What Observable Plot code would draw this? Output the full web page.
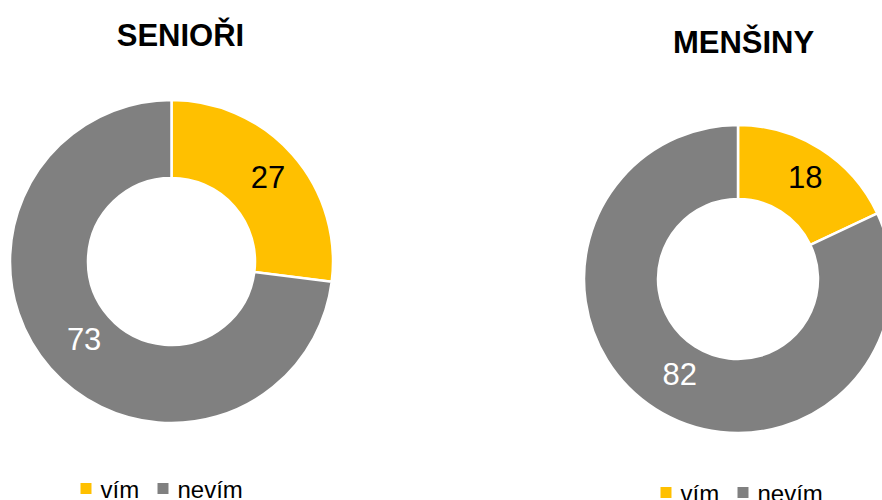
<!DOCTYPE html>
<html><head><meta charset="utf-8">
<script src="https://cdn.jsdelivr.net/npm/d3@7"></script>
<script src="https://cdn.jsdelivr.net/npm/@observablehq/plot@0.6"></script>
<style>body{margin:0;background:#fff;font-family:"Liberation Sans",Arial,sans-serif}</style>
</head><body><div id="chart"></div>
<script>
// ---- data ----
const groups = ["SENIOŘI", "MENŠINY"];
const answers = ["vím", "nevím"];
const seniori = [27, 73];
const mensiny = [18, 82];
const colors = ["#FFC000", "#808080"];
const labelColors = ["#000000", "#FFFFFF"];

// ---- layout (pixels) ----
const W = 882, H = 500;
const layout = [
  {cx: 171.5, cy: 261.5, r1: 161.5, r0: 83.5, titleX: 180, titleY: 45, legX: 80, legY: 488},
  {cx: 738, cy: 279, r1: 154, r0: 80, titleX: 743, titleY: 52, legX: 660, legY: 492}
];
const series = [seniori, mensiny];

const pie = d3.pie().sort(null).value(d => d);
const slices = [], labels = [], titles = [], legend = [];
groups.forEach((g, gi) => {
  const L = layout[gi];
  const arcs = pie(series[gi]);
  arcs.forEach((a, i) => {
    slices.push({group: g, answer: answers[i], value: a.value, start: a.startAngle, end: a.endAngle,
                 cx: L.cx, cy: L.cy, r0: L.r0, r1: L.r1});
    const mid = (a.startAngle + a.endAngle) / 2;
    const rm = (L.r0 + L.r1) / 2;
    labels.push({text: String(a.value), x: L.cx + rm * Math.sin(mid), y: L.cy - rm * Math.cos(mid),
                 color: labelColors[i]});
  });
  titles.push({text: g, x: L.titleX, y: L.titleY});
  answers.forEach((ans, i) => {
    legend.push({answer: ans, x: L.legX + 5.5 + i * 77, tx: L.legX + 20 + i * 77, y: L.legY});
  });
});

const arcMark = Plot.dot(slices, {
  x: "cx", y: "cy",
  render: (index, scales, values) => {
    const g = d3.create("svg:g");
    const arc = d3.arc();
    for (const i of index) {
      const d = slices[i];
      g.append("path")
        .attr("transform", `translate(${values.x[i]},${values.y[i]})`)
        .attr("d", arc({innerRadius: d.r0, outerRadius: d.r1, startAngle: d.start, endAngle: d.end}))
        .attr("fill", scales.color(d.answer))
        .attr("stroke", "white")
        .attr("stroke-width", 2.5)
        .attr("stroke-linejoin", "miter");
    }
    return g.node();
  }
});

const chart = Plot.plot({
  width: W, height: H,
  margin: 0,
  x: {domain: [0, W], range: [0, W], axis: null},
  y: {domain: [0, H], range: [0, H], axis: null},
  color: {domain: answers, range: colors},
  style: {fontFamily: "'Liberation Sans', Arial, sans-serif", background: "#fff"},
  marks: [
    arcMark,
    Plot.text(labels, {x: "x", y: "y", text: "text", fill: d => d.color, fontSize: 31, dx: 4, dy: -3}),
    Plot.text(titles, {x: "x", y: "y", text: "text", fontSize: 31, fontWeight: "bold", fill: "#000", lineAnchor: "bottom"}),
    Plot.dot(legend, {x: "x", y: "y", symbol: "square", r: 6.2, fill: "answer", stroke: null}),
    Plot.text(legend, {x: "tx", y: d => d.y + 9, text: "answer", textAnchor: "start", lineAnchor: "bottom", fontSize: 24, fill: "#000"})
  ]
});
document.getElementById("chart").append(chart);
</script>
</body></html>
